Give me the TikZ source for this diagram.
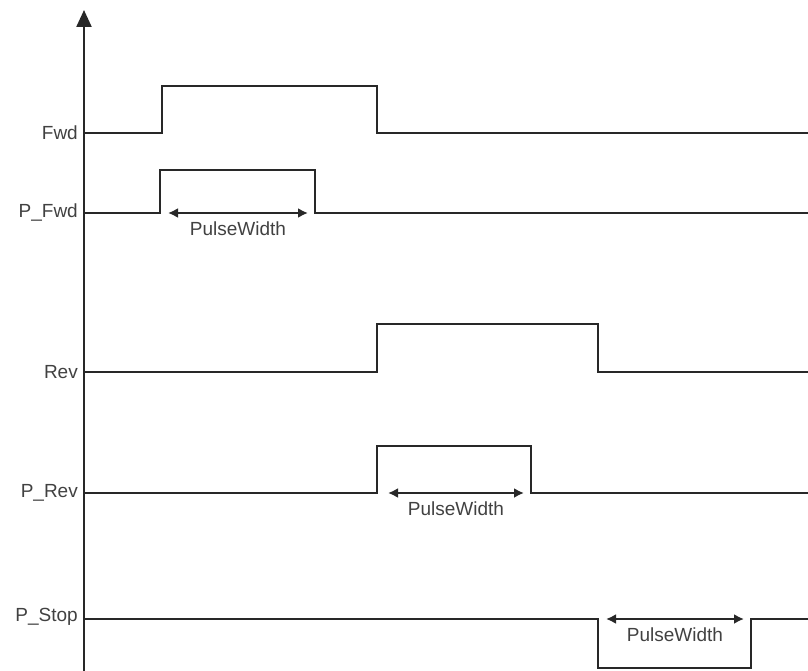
\documentclass[tikz,border=0pt]{standalone}
\usepackage{fontspec}
\setmainfont{Liberation Sans}
\usetikzlibrary{arrows.meta,positioning}
\definecolor{wavegray}{RGB}{40,40,40}
\definecolor{labelgray}{RGB}{65,65,65}

\begin{document}
\begin{tikzpicture}[x=1pt,y=-1pt,every node/.style={font=\fontsize{19}{22}\selectfont,text=labelgray}]
    \useasboundingbox (0,0) rectangle (808,671);
    % time axis
    \coordinate (axbot) at (84,671);
    \coordinate (axtop) at (84,10);
    \draw[line width=2.3pt,wavegray,-{Triangle[length=17pt,width=15pt]}] (axbot) -- (axtop);
    % signal names
    \node[anchor=east,inner sep=2pt] (fwd) at (80,133) {Fwd};
    \node[anchor=east,inner sep=2pt] (pfwd) at (80,213) {P\_Fwd};
    \node[anchor=east,inner sep=2pt] (rev) at (80,372) {Rev};
    \node[anchor=east,inner sep=2pt] (prev) at (80,493) {P\_Rev};
    \node[anchor=east,inner sep=2pt] (pstop) at (80,617) {P\_Stop};
    % waveforms
    \draw[line width=2.3pt,wavegray] (84,133) -- (162,133) -- (162,86) -- (377,86) -- (377,133) -- (808,133);
    \draw[line width=2.3pt,wavegray] (84,213) -- (160,213) -- (160,170) -- (315,170) -- (315,213) -- (808,213);
    \draw[line width=2.3pt,wavegray] (84,372) -- (377,372) -- (377,324) -- (598,324) -- (598,372) -- (808,372);
    \draw[line width=2.3pt,wavegray] (84,493) -- (377,493) -- (377,446) -- (531,446) -- (531,493) -- (808,493);
    \draw[line width=2.3pt,wavegray] (84,619) -- (598,619) -- (598,668) -- (751,668) -- (751,619) -- (808,619);
    % pulse widths
    \coordinate (pfA) at (168,213);
    \coordinate (pfB) at (308,213);
    \coordinate (prA) at (388,493);
    \coordinate (prB) at (524,493);
    \coordinate (psA) at (606,619);
    \coordinate (psB) at (744,619);
    \draw[line width=2.3pt,wavegray,{Latex[length=10pt,width=10pt]}-{Latex[length=10pt,width=10pt]}] (pfA) -- (pfB) node[midway,below=4pt] (pwfwd) {PulseWidth};
    \draw[line width=2.3pt,wavegray,{Latex[length=10pt,width=10pt]}-{Latex[length=10pt,width=10pt]}] (prA) -- (prB) node[midway,below=4pt] (pwrev) {PulseWidth};
    \draw[line width=2.3pt,wavegray,{Latex[length=10pt,width=10pt]}-{Latex[length=10pt,width=10pt]}] (psA) -- (psB) node[midway,below=4pt] (pwstop) {PulseWidth};
\end{tikzpicture}
\end{document}
